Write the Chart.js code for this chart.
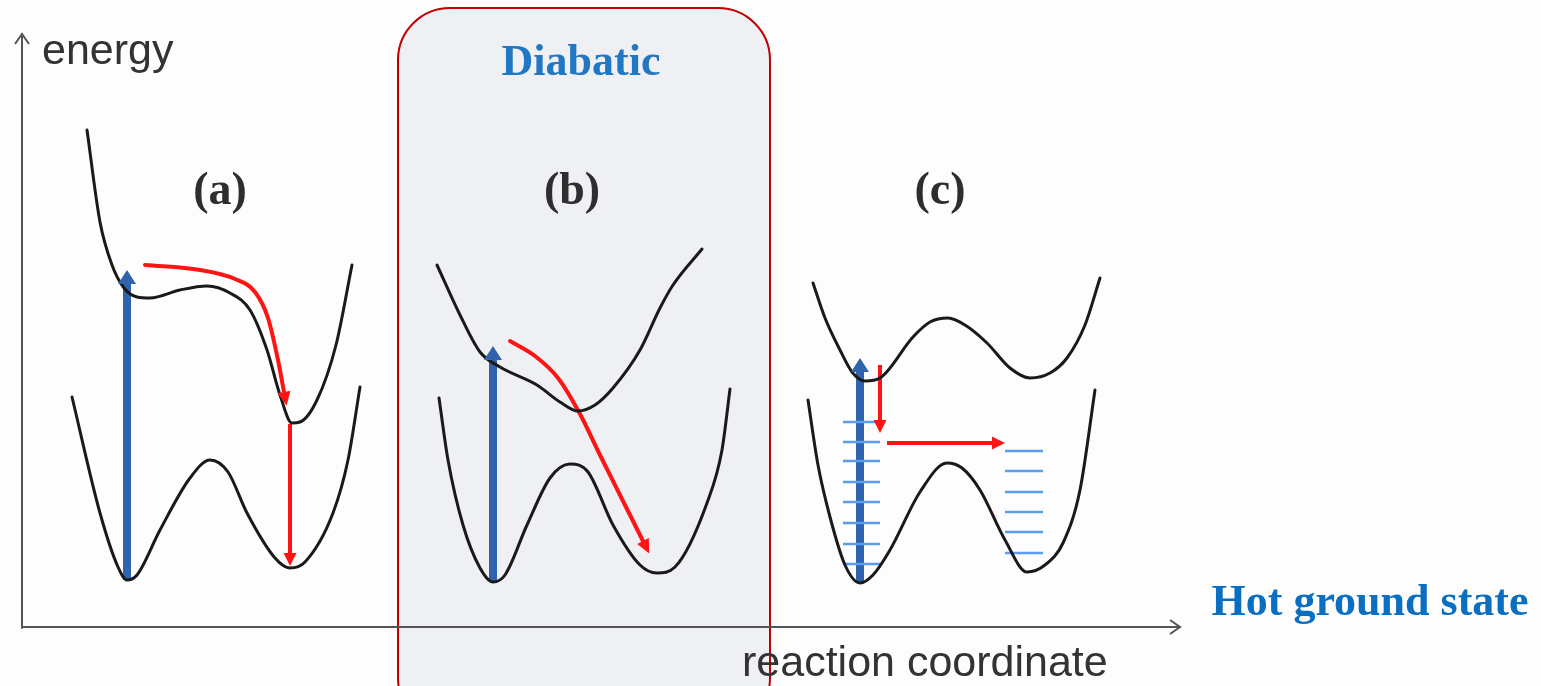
<!DOCTYPE html>
<html>
<head>
<meta charset="utf-8">
<script src="https://cdn.jsdelivr.net/npm/chart.js@4.4.1/dist/chart.umd.min.js"></script>
<style>
  html, body { margin: 0; padding: 0; background: #fdfdfd; }
  #wrap { width: 1541px; height: 686px; }
</style>
</head>
<body>
<div id="wrap"><canvas id="diagram" width="1541" height="686"></canvas></div>
<script>
// Potential energy curves as [x, y] in picture units
const upperA = [[87,130],[100,222],[112,265],[124,288],[137,297],[150,298],[180,290],[207,286],[230,293],[250,310],[267,350],[280,395],[292,423],[300,422],[317,400],[336,345],[352,265]];
const lowerA = [[72,397],[100,513],[118,567],[127,580],[137,575],[160,530],[190,478],[210,460],[228,472],[247,513],[275,558],[290,568],[305,562],[333,513],[348,460],[360,387]];
const upperB = [[437,265],[460,315],[480,352],[500,367],[537,385],[560,402],[578,411],[595,405],[613,388],[640,350],[660,308],[673,285],[702,249]];
const lowerB = [[439,398],[448,460],[463,525],[480,568],[493,582],[505,575],[527,525],[550,478],[570,464],[588,472],[613,525],[640,565],[657,573],[675,567],[707,503],[722,450],[730,389]];
const upperC = [[813,283],[825,318],[840,350],[852,372],[865,381],[880,378],[913,337],[930,322],[948,318],[965,325],[987,343],[1010,368],[1030,378],[1050,373],[1067,358],[1085,325],[1100,278]];
const lowerC = [[808,400],[818,465],[830,517],[845,565],[860,583],[873,575],[890,550],[920,492],[947,463],[962,468],[980,490],[1005,540],[1027,572],[1045,565],[1063,543],[1080,490],[1095,390]];

// Excitation (blue) and relaxation (red) arrows
const blueA = [[127,580],[127,284]];
const blueB = [[493,582],[493,360]];
const blueC = [[860,583],[860,372]];
const redCurveA = [[145,265],[200,270],[235,279],[255,292],[268,318],[278,360],[284,392]];
const redDropA = [[290,424],[290,553]];
const redCurveB = [[510,341],[535,356],[558,378],[580,414],[600,455],[625,505],[643,541]];
const redDropC = [[880,365],[880,420]];
const redSideC = [[887,443],[992,443]];

// Vibrational levels in panel (c)
const levelsLeftY = [422,442,461,482,502,523,544,564];
const levelsRightY = [451,471,492,512,532,553];
const levelsLeftX = [843,880];
const levelsRightX = [1005,1043];

// Axes
const axisY = [[22,628],[22,34]];
const axisX = [[22,627],[1180,627]];

const toPts = arr => arr.map(p => ({ x: p[0], y: p[1] }));

const datasets = [];
function addLine(pts, color, width, extra) {
    datasets.push(Object.assign({
        data: toPts(pts),
        showLine: true,
        borderColor: color,
        borderWidth: width,
        pointRadius: 0,
        cubicInterpolationMode: 'monotone',
        borderCapStyle: 'round'
    }, extra || {}));
}

addLine(axisY, '#555555', 2, { cubicInterpolationMode: 'default', tension: 0, arrow: 'open', arrowLen: 10, arrowWidth: 14 });
addLine(axisX, '#555555', 2, { cubicInterpolationMode: 'default', tension: 0, arrow: 'open', arrowLen: 10, arrowWidth: 14 });

[upperA, lowerA, upperB, lowerB, upperC, lowerC].forEach(c => addLine(c, '#1a1a1a', 3));

const flat = { cubicInterpolationMode: 'default', tension: 0, borderCapStyle: 'butt' };
levelsLeftY.forEach(y => addLine([[levelsLeftX[0], y], [levelsLeftX[1], y]], '#5c9cf0', 2.5, flat));
levelsRightY.forEach(y => addLine([[levelsRightX[0], y], [levelsRightX[1], y]], '#5c9cf0', 2.5, flat));

[blueA, blueB, blueC].forEach(a => addLine(a, '#2f63ad', 8, Object.assign({ arrow: 'fill', arrowLen: 14, arrowWidth: 18 }, flat)));
[redCurveA, redCurveB].forEach(a => addLine(a, '#ff1414', 4, { arrow: 'fill', arrowLen: 14, arrowWidth: 13 }));
[redDropA, redDropC, redSideC].forEach(a => addLine(a, '#ff1414', 4, Object.assign({ arrow: 'fill', arrowLen: 13, arrowWidth: 13 }, flat)));

// Shaded "Diabatic" panel behind panel (b)
const panelPlugin = {
    id: 'panel',
    beforeDatasetsDraw(chart) {
        const { ctx, scales: { x, y } } = chart;
        const l = x.getPixelForValue(398), r = x.getPixelForValue(770);
        const t = y.getPixelForValue(8), b = y.getPixelForValue(730);
        ctx.save();
        ctx.beginPath();
        ctx.roundRect(l, t, r - l, b - t, 52);
        ctx.fillStyle = '#eef0f4';
        ctx.fill();
        ctx.lineWidth = 2;
        ctx.strokeStyle = '#c00000';
        ctx.stroke();
        ctx.restore();
    }
};

// Arrow heads at the end of each flagged dataset
const arrowPlugin = {
    id: 'arrows',
    afterDatasetsDraw(chart) {
        const ctx = chart.ctx;
        chart.data.datasets.forEach((ds, i) => {
            if (!ds.arrow) return;
            const pts = chart.getDatasetMeta(i).data;
            const p1 = pts[pts.length - 2], p2 = pts[pts.length - 1];
            const dx = p2.x - p1.x, dy = p2.y - p1.y;
            const d = Math.hypot(dx, dy);
            const ux = dx / d, uy = dy / d;
            const len = ds.arrowLen, half = ds.arrowWidth / 2;
            ctx.save();
            if (ds.arrow === 'open') {
                const tx = p2.x, ty = p2.y;
                ctx.beginPath();
                ctx.moveTo(tx - ux * len - uy * half, ty - uy * len + ux * half);
                ctx.lineTo(tx, ty);
                ctx.lineTo(tx - ux * len + uy * half, ty - uy * len - ux * half);
                ctx.strokeStyle = ds.borderColor;
                ctx.lineWidth = 2;
                ctx.stroke();
            } else {
                const tx = p2.x + ux * len, ty = p2.y + uy * len;
                ctx.beginPath();
                ctx.moveTo(tx, ty);
                ctx.lineTo(p2.x - uy * half, p2.y + ux * half);
                ctx.lineTo(p2.x + uy * half, p2.y - ux * half);
                ctx.closePath();
                ctx.fillStyle = ds.borderColor;
                ctx.fill();
            }
            ctx.restore();
        });
    }
};

// Text annotations
const labelPlugin = {
    id: 'labels',
    afterDatasetsDraw(chart) {
        const { ctx, scales: { x, y } } = chart;
        const sans = '"Liberation Sans", Arial, sans-serif';
        const serif = '"Liberation Serif", "Times New Roman", serif';
        const items = [
            { t: 'energy', x: 42, y: 52, font: '43px ' + sans, c: '#333333', a: 'left' },
            { t: 'reaction coordinate', x: 742, y: 664, font: '43px ' + sans, c: '#333333', a: 'left' },
            { t: 'Diabatic', x: 581, y: 64, font: 'bold 44px ' + serif, c: '#2277c2', a: 'center' },
            { t: 'Hot ground state', x: 1370, y: 604, font: 'bold 44px ' + serif, c: '#0a6fc0', a: 'center' },
            { t: '(a)', x: 220, y: 192, font: 'bold 46px ' + serif, c: '#2e2e2e', a: 'center' },
            { t: '(b)', x: 572, y: 192, font: 'bold 46px ' + serif, c: '#2e2e2e', a: 'center' },
            { t: '(c)', x: 940, y: 192, font: 'bold 46px ' + serif, c: '#2e2e2e', a: 'center' }
        ];
        ctx.save();
        ctx.textBaseline = 'middle';
        items.forEach(it => {
            ctx.font = it.font;
            ctx.fillStyle = it.c;
            ctx.textAlign = it.a;
            ctx.fillText(it.t, x.getPixelForValue(it.x), y.getPixelForValue(it.y));
        });
        ctx.restore();
    }
};

new Chart(document.getElementById('diagram').getContext('2d'), {
    type: 'scatter',
    data: { datasets: datasets },
    options: {
        responsive: false,
        animation: false,
        layout: { padding: 0 },
        scales: {
            x: { type: 'linear', min: 0, max: 1541, display: false },
            y: { type: 'linear', min: 0, max: 686, reverse: true, display: false }
        },
        plugins: {
            legend: { display: false },
            tooltip: { enabled: false }
        }
    },
    plugins: [panelPlugin, arrowPlugin, labelPlugin]
});
</script>
</body>
</html>
